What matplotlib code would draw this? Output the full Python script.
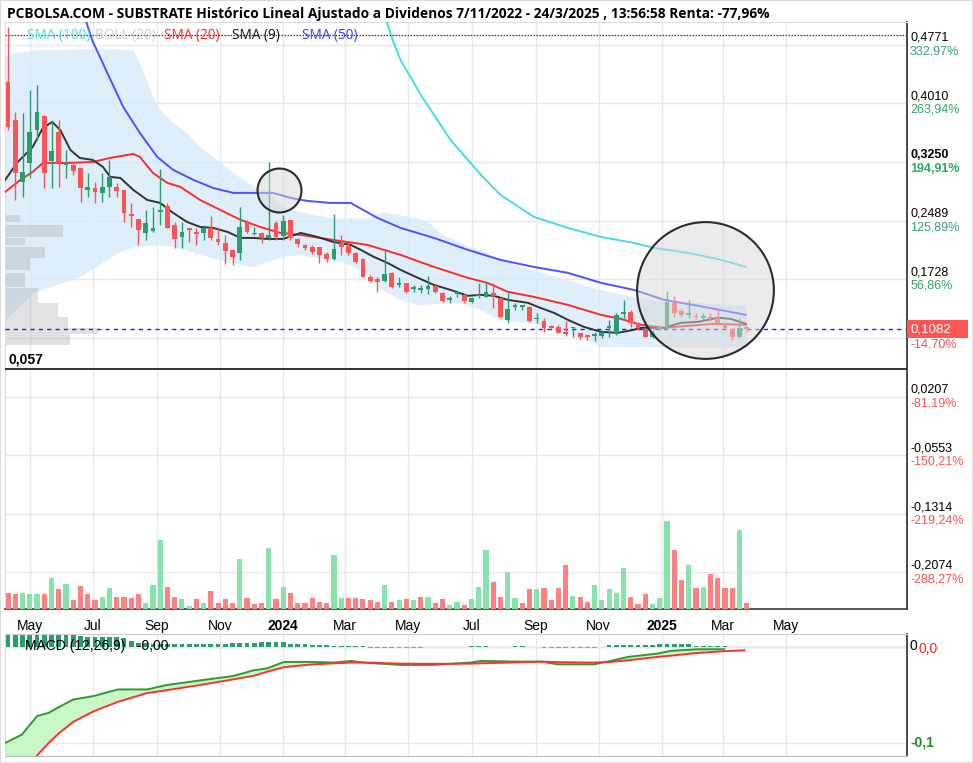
"""
SUBSTRATE weekly chart (pcbolsa style): candles + SMA/Bollinger, volume, MACD.
Writes out.png (973x763).
"""
import numpy as np
import pandas as pd
import matplotlib
matplotlib.use("Agg")
import matplotlib.pyplot as plt
import matplotlib.dates as mdates
from matplotlib.patches import Rectangle

# ── weekly candles, first week 10-Apr-2023 ───────────────────────────────────
START = "2023-04-10"
OPEN = [0.4290, 0.3794, 0.2994, 0.3232, 0.3664, 0.3846, 0.3266, 0.3642, 0.3210, 0.3210,
        0.3168, 0.2886, 0.2912, 0.2844, 0.2929, 0.2929, 0.2886, 0.2575, 0.2507, 0.2325,
        0.2355, 0.2605, 0.2679, 0.2433, 0.2281, 0.2390, 0.2336, 0.2325, 0.2390, 0.2251,
        0.2196, 0.2109, 0.2066, 0.2455, 0.2310, 0.2325, 0.2260, 0.2463, 0.2290, 0.2500,
        0.2251, 0.2174, 0.2152, 0.2152, 0.2057, 0.1992, 0.2200, 0.2161, 0.2074, 0.1992,
        0.1763, 0.1729, 0.1711, 0.1815, 0.1655, 0.1677, 0.1603, 0.1590, 0.1599, 0.1642,
        0.1548, 0.1461, 0.1535, 0.1526, 0.1439, 0.1506, 0.1504, 0.1556, 0.1483, 0.1202,
        0.1371, 0.1370, 0.1374, 0.1208, 0.1193, 0.1111, 0.1115, 0.1037, 0.1091, 0.1029,
        0.1007, 0.0994, 0.0994, 0.1100, 0.1029, 0.1283, 0.1309, 0.1167, 0.1081, 0.0977,
        0.1085, 0.1094, 0.1426, 0.1318, 0.1266, 0.1240, 0.1224, 0.1228, 0.1224, 0.1167,
        0.1081, 0.0977, 0.1094]
HIGH = [0.5000, 0.3901, 0.3884, 0.4183, 0.4247, 0.3858, 0.3794, 0.3794, 0.3405, 0.3249,
        0.3172, 0.3107, 0.2990, 0.3107, 0.3275, 0.2977, 0.2886, 0.2718, 0.2507, 0.2627,
        0.2666, 0.3159, 0.2718, 0.2476, 0.2476, 0.2390, 0.2394, 0.2433, 0.2549, 0.2411,
        0.2303, 0.2122, 0.2670, 0.2498, 0.2411, 0.2346, 0.3253, 0.2480, 0.2560, 0.2500,
        0.2265, 0.2190, 0.2170, 0.2152, 0.2087, 0.2575, 0.2303, 0.2196, 0.2087, 0.2005,
        0.1785, 0.1759, 0.2118, 0.1828, 0.1759, 0.1685, 0.1655, 0.1655, 0.1772, 0.1655,
        0.1568, 0.1513, 0.1568, 0.1539, 0.1504, 0.1677, 0.1698, 0.1685, 0.1483, 0.1548,
        0.1418, 0.1396, 0.1383, 0.1288, 0.1224, 0.1137, 0.1137, 0.1193, 0.1115, 0.1037,
        0.1020, 0.1050, 0.1072, 0.1202, 0.1288, 0.1461, 0.1331, 0.1180, 0.1094, 0.1081,
        0.1124, 0.1581, 0.1513, 0.1340, 0.1461, 0.1296, 0.1288, 0.1296, 0.1331, 0.1180,
        0.1094, 0.1224, 0.1115]
LOW = [0.3664, 0.2757, 0.2796, 0.3042, 0.3534, 0.2912, 0.2912, 0.2929, 0.3042, 0.3081,
       0.2735, 0.2800, 0.2718, 0.2731, 0.2800, 0.2796, 0.2476, 0.2407, 0.2174, 0.2238,
       0.2340, 0.2433, 0.2390, 0.2131, 0.2131, 0.2216, 0.2174, 0.2238, 0.2238, 0.2174,
       0.1927, 0.1914, 0.1979, 0.2325, 0.2303, 0.2196, 0.2238, 0.2238, 0.2238, 0.2238,
       0.2150, 0.2110, 0.2060, 0.1940, 0.1957, 0.1979, 0.2044, 0.2044, 0.1940, 0.1755,
       0.1698, 0.1561, 0.1698, 0.1612, 0.1633, 0.1548, 0.1568, 0.1548, 0.1539, 0.1548,
       0.1439, 0.1418, 0.1504, 0.1426, 0.1426, 0.1483, 0.1496, 0.1353, 0.1224, 0.1159,
       0.1331, 0.1331, 0.1180, 0.1159, 0.1050, 0.1072, 0.1029, 0.0994, 0.0985, 0.0951,
       0.0942, 0.0933, 0.0964, 0.0985, 0.1007, 0.1202, 0.1115, 0.1072, 0.0977, 0.0964,
       0.1072, 0.1094, 0.1244, 0.1237, 0.1224, 0.1211, 0.1202, 0.1193, 0.1137, 0.1081,
       0.0942, 0.0964, 0.1050]
CLOSE = [0.3699, 0.3103, 0.3124, 0.3642, 0.3901, 0.3103, 0.3396, 0.3232, 0.3223, 0.3137,
         0.2908, 0.2925, 0.2864, 0.2929, 0.3059, 0.2877, 0.2584, 0.2549, 0.2368, 0.2463,
         0.2394, 0.2627, 0.2390, 0.2247, 0.2346, 0.2368, 0.2316, 0.2390, 0.2260, 0.2209,
         0.2100, 0.2022, 0.2411, 0.2346, 0.2323, 0.2260, 0.2300, 0.2275, 0.2480, 0.2260,
         0.2187, 0.2131, 0.2087, 0.2044, 0.1992, 0.2118, 0.2148, 0.2074, 0.1957, 0.1763,
         0.1711, 0.1698, 0.1798, 0.1625, 0.1681, 0.1568, 0.1612, 0.1599, 0.1646, 0.1561,
         0.1448, 0.1491, 0.1543, 0.1448, 0.1491, 0.1513, 0.1568, 0.1513, 0.1237, 0.1344,
         0.1374, 0.1377, 0.1193, 0.1215, 0.1094, 0.1102, 0.1037, 0.1020, 0.1098, 0.0985,
         0.0985, 0.1020, 0.1050, 0.1111, 0.1266, 0.1292, 0.1159, 0.1094, 0.0985, 0.1037,
         0.1094, 0.1439, 0.1296, 0.1266, 0.1275, 0.1234, 0.1244, 0.1221, 0.1159, 0.1094,
         0.0985, 0.1094, 0.1082]

# weekly volume (thousand shares) and its up/down colouring as shown
VOLUME = [48, 44, 48, 44, 44, 44, 93, 60, 74, 26,
          68, 45, 26, 37, 63, 37, 37, 33, 44, 18,
          71, 206, 67, 37, 30, 8, 30, 18, 53, 18,
          30, 18, 150, 33, 15, 18, 183, 30, 67, 48,
          18, 18, 33, 22, 18, 161, 33, 33, 33, 30,
          26, 22, 71, 22, 26, 30, 26, 37, 37, 18,
          30, 11, 22, 11, 30, 67, 176, 82, 37, 112,
          33, 18, 60, 60, 63, 26, 63, 131, 40, 37,
          22, 71, 26, 60, 48, 123, 37, 14, 44, 14,
          33, 263, 176, 86, 131, 63, 67, 104, 93, 63,
          63, 236, 18]
VOL_DIR = ("rrgggrgrgr" "rrrggrrrrg" "ggrrggrgrr" "rrgrrrgrgr" "rrrrrggrrr"
           "rrgrgrgrgr" "rggrgggrrg" "grrgrrrrgr" "rgggggrrrg" "ggrrgrgrrr" "rgr")

# MACD histogram, thousandths
HIST_MILLI = [13, 13, 13, 13, 13, 13, 13, 13, 13, 13,
              11, 10, 10, 10, 10, 10, 9, 6, 4, 4,
              3, 3, 3, 3, 3, 3, 3, 3, 3, 3,
              3, 4, 4, 4, 4, 5, 5, 5, 5, 3,
              3, 3, 2, 2, 2, 1, 1, 1, 1, 1,
              -1, -1, -1, -1, -1, -1, -1, -1, 0, 0,
              0, 0, 0, 0, 1, 1, 1, 0, 0, 0,
              1, 1, 0, 0, -1, -1, -1, -1, -1, -1,
              -1, -1, 0, 2, 2, 2, 2, 2, 2, 2,
              3, 3, 3, 3, 3, 1.5, 1.5, 1.5, 1.5, 1.5,
              0, 0, 0]

# ── indicator lines, sampled at week positions (0 = first candle) ──────────────
SMA9_WK = [-0.4, 1.2, 3.4, 4.8, 6.1, 7.2, 8.6, 9.9, 11.7, 13.1, 14.1, 15.5, 17.3, 19.2,
           21.0, 22.8, 24.7, 26.5, 28.3, 30.3, 32.1, 33.9, 35.8, 38.0, 40.4, 42.7, 44.9,
           47.3, 48.7, 50.5, 52.4, 54.2, 56.6, 58.8, 61.1, 63.5, 65.3, 67.1, 69.0, 71.8,
           73.5, 75.4, 77.3, 79.5, 81.9, 84.2, 86.4, 87.4, 90.6, 92.9, 95.3, 98.0, 99.8, 101.9]
SMA9 = [0.3016, 0.3236, 0.3444, 0.3690, 0.3768, 0.3664, 0.3405, 0.3301, 0.3275, 0.3185,
        0.3055, 0.3042, 0.2886, 0.2757, 0.2718, 0.2588, 0.2472, 0.2407, 0.2394, 0.2342,
        0.2264, 0.2264, 0.2251, 0.2251, 0.2329, 0.2277, 0.2212, 0.2174, 0.2109, 0.2018,
        0.1940, 0.1850, 0.1746, 0.1655, 0.1590, 0.1513, 0.1526, 0.1513, 0.1461, 0.1422,
        0.1357, 0.1292, 0.1202, 0.1111, 0.1046, 0.1033, 0.1072, 0.1098, 0.1098, 0.1163,
        0.1176, 0.1228, 0.1215, 0.1150]
SMA20_WK = [-0.4, 1.7, 3.4, 4.8, 8.2, 11.7, 14.1, 17.3, 18.2, 20.0, 22.0, 23.8, 26.5,
            29.3, 32.1, 34.8, 37.6, 40.4, 44.9, 49.6, 54.2, 58.8, 63.5, 66.2, 69.0, 72.6,
            77.3, 81.9, 84.6, 87.4, 90.6, 93.9, 97.5, 101.9]
SMA20 = [0.2861, 0.3016, 0.3120, 0.3236, 0.3236, 0.3249, 0.3301, 0.3353, 0.3314, 0.3107,
         0.2977, 0.2925, 0.2757, 0.2627, 0.2498, 0.2407, 0.2329, 0.2303, 0.2238, 0.2174,
         0.2044, 0.1888, 0.1746, 0.1681, 0.1565, 0.1500, 0.1396, 0.1266, 0.1214, 0.1137,
         0.1098, 0.1124, 0.1150, 0.1137]
SMA50_WK = [10.8, 11.6, 13.7, 15.9, 18.2, 20.6, 22.8, 25.6, 28.3, 31.1, 33.9, 36.6, 39.0,
            41.3, 44.5, 47.3, 51.0, 54.2, 58.8, 63.5, 68.0, 72.6, 77.3, 81.9, 86.4, 90.6,
            96.1, 101.9]
SMA50 = [0.5064, 0.4831, 0.4403, 0.3962, 0.3625, 0.3314, 0.3146, 0.3016, 0.2912, 0.2848,
         0.2848, 0.2848, 0.2783, 0.2744, 0.2718, 0.2718, 0.2524, 0.2394, 0.2264, 0.2109,
         0.1979, 0.1888, 0.1811, 0.1681, 0.1590, 0.1461, 0.1370, 0.1266]
SMA100_WK = [52.3, 53.1, 54.2, 57.0, 61.1, 65.3, 68.0, 72.6, 77.3, 81.9, 86.4, 89.2, 93.9,
             98.5, 101.9]
SMA100 = [0.5064, 0.4831, 0.4571, 0.4118, 0.3534, 0.3081, 0.2822, 0.2537, 0.2394, 0.2277,
          0.2200, 0.2135, 0.2070, 0.1979, 0.1888]

BOLL_WK = [-0.4, 3.4, 9.9, 15.1, 17.3, 18.7, 20.6, 22.8, 24.7, 26.5, 28.9, 31.1, 33.5,
           35.8, 38.0, 40.4, 44.9, 47.3, 49.6, 51.8, 54.2, 56.6, 58.0, 59.7, 61.1, 62.5,
           63.5, 65.3, 68.0, 72.6, 77.3, 79.5, 81.9, 86.4, 89.2, 93.9, 101.9]
BOLL_UP = [0.4636, 0.4701, 0.4714, 0.4714, 0.4701, 0.4403, 0.3962, 0.3755, 0.3625, 0.3444,
           0.3275, 0.3107, 0.2960, 0.2860, 0.2666, 0.2601, 0.2524, 0.2524, 0.2524, 0.2601,
           0.2562, 0.2520, 0.2472, 0.2329, 0.2260, 0.2200, 0.2160, 0.2109, 0.1979, 0.1850,
           0.1720, 0.1655, 0.1590, 0.1500, 0.1461, 0.1430, 0.1396]
BOLL_LO = [0.1202, 0.1552, 0.1760, 0.2070, 0.2148, 0.2165, 0.2174, 0.2150, 0.2105, 0.2050,
           0.1990, 0.1940, 0.1888, 0.1953, 0.2030, 0.2044, 0.1979, 0.1914, 0.1785, 0.1590,
           0.1461, 0.1396, 0.1405, 0.1420, 0.1435, 0.1420, 0.1396, 0.1330, 0.1202, 0.1163,
           0.1033, 0.0968, 0.0851, 0.0851, 0.0851, 0.0851, 0.0851]

# volume-at-price blocks on the left edge
VP_LO = [0.2472, 0.2277, 0.2174, 0.2005, 0.1850, 0.1629, 0.1422, 0.1240, 0.1098, 0.1020, 0.0878]
VP_HI = [0.2562, 0.2433, 0.2264, 0.2148, 0.2005, 0.1811, 0.1616, 0.1422, 0.1240, 0.1098, 0.1020]
VP_VOL = [15, 58, 20, 40, 25, 20, 33, 53, 63, 93, 65]

# MACD (12,26,9)
MACD_WK = [-0.4, 1.9, 4.0, 5.6, 7.0, 9.0, 11.8, 15.2, 19.2, 21.9, 26.5, 31.1, 33.9, 35.8,
           38.1, 41.8, 45.0, 47.3, 49.6, 54.2, 58.8, 63.9, 65.3, 70.8, 73.6, 75.9, 80.9,
           83.2, 85.6, 89.7, 91.5, 95.2, 98.9]
MACD = [-0.1000, -0.0913, -0.0720, -0.0686, -0.0626, -0.0547, -0.0511, -0.0442, -0.0442,
        -0.0396, -0.0348, -0.0302, -0.0243, -0.0222, -0.0155, -0.0155, -0.0162, -0.0145,
        -0.0165, -0.0186, -0.0186, -0.0162, -0.0145, -0.0152, -0.0152, -0.0180, -0.0180,
        -0.0145, -0.0103, -0.0068, -0.0040, -0.0023, -0.0023]
SIGNAL_WK = MACD_WK + [101.7]
SIGNAL = [-0.160, -0.140, -0.113, -0.100, -0.090, -0.078, -0.067, -0.057, -0.048, -0.045,
          -0.0396, -0.0337, -0.0300, -0.0257, -0.0210, -0.0182, -0.0170, -0.0162, -0.0162,
          -0.0173, -0.0175, -0.0173, -0.0170, -0.0158, -0.0152, -0.0157, -0.0162, -0.0155,
          -0.0138, -0.0103, -0.0090, -0.0062, -0.0043, -0.0034]

LAST_PRICE = 0.1082
PERIOD_MAX = 0.4895
FLOOR_PRICE = 0.057

# right axis
GRID_TICKS = [0.4771, 0.4010, 0.3250, 0.2489, 0.1728, 0.0968, 0.0207, -0.0553, -0.1314, -0.2074]
TICK_VALS = [0.4771, 0.4010, 0.3250, 0.2489, 0.1728, 0.0207, -0.0553, -0.1314, -0.2074]
TICK_TXT = ["0,4771", "0,4010", "0,3250", "0,2489", "0,1728", "0,0207", "-0,0553", "-0,1314", "-0,2074"]
TICK_PCT = ["332,97%", "263,94%", "194,91%", "125,89%", "56,86%", "-81,19%", "-150,21%",
            "-219,24%", "-288,27%"]

MONTHS = ["2023-05-01", "2023-07-01", "2023-09-01", "2023-11-01", "2024-01-01", "2024-03-01",
          "2024-05-01", "2024-07-01", "2024-09-01", "2024-11-01", "2025-01-01", "2025-03-01",
          "2025-05-01"]
MONTH_LBL = ["May", "Jul", "Sep", "Nov", "2024", "Mar", "May", "Jul", "Sep", "Nov", "2025",
             "Mar", "May"]

TITLE = ("PCBOLSA.COM - SUBSTRATE Histórico Lineal Ajustado a Dividenos 7/11/2022 - "
         "24/3/2025 , 13:56:58 Renta: -77,96%")

# ── colours ───────────────────────────────────────────────────────────────────
GREEN = "#2a9d6e"
RED = "#ff5252"
VGREEN = "#86e3ab"
VRED = "#ff8080"
C_SMA9 = "#333333"
C_SMA20 = "#ff2b2b"
C_SMA50 = "#5050ff"
C_SMA100 = "#45dbea"
C_BOLL = "#d6ebfb"
GRID = "#e8e8e8"
PCT_UP = "#2ea46e"
PCT_DN = "#ff5050"

SANS = ["Liberation Sans", "DejaVu Sans"]
NARROW = ["Liberation Sans Narrow", "Liberation Sans", "DejaVu Sans"]
OPEN_SANS = ["Open Sans", "DejaVu Sans"]

W, H = 973, 763


def fx(px):
    return px / W


def fy(py):
    return 1 - py / H


fig = plt.figure(figsize=(W / 100, H / 100), dpi=100)
fig.patch.set_facecolor("white")
fig.add_artist(Rectangle((0, 0), 1, 1, transform=fig.transFigure, fill=False,
                         ec="#dcdcdc", lw=1.5))

ax = fig.add_axes([fx(5), fy(609), (907 - 5) / W, (609 - 22) / H])
axv = fig.add_axes([fx(5), fy(609), (907 - 5) / W, (609 - 22) / H], sharex=ax)
axm = fig.add_axes([fx(5), fy(756), (907 - 5) / W, (756 - 634) / H], sharex=ax)

weeks = mdates.date2num(pd.date_range(START, periods=len(CLOSE), freq="7D"))
x0 = weeks[0]


def wk(v):
    return x0 + 7 * np.asarray(v, dtype=float)


o, h, l, c = (np.array(a) for a in (OPEN, HIGH, LOW, CLOSE))

# ── price panel ───────────────────────────────────────────────────────────────
ax.fill_between(wk(BOLL_WK), BOLL_LO, BOLL_UP, color=C_BOLL, alpha=0.8, lw=0, zorder=1)

for lo, hi, v in zip(VP_LO, VP_HI, VP_VOL):
    ax.add_patch(Rectangle((0, lo), v / 902, hi - lo, transform=ax.get_yaxis_transform(),
                           fc="#9a9a9a", alpha=0.28, lw=0, zorder=2))

ax.plot(wk(SMA100_WK), SMA100, color=C_SMA100, lw=1.4, zorder=3)
ax.plot(wk(SMA50_WK), SMA50, color=C_SMA50, lw=1.4, zorder=3)
ax.plot(wk(SMA20_WK), SMA20, color=C_SMA20, lw=1.4, zorder=3)
ax.plot(wk(SMA9_WK), SMA9, color=C_SMA9, lw=1.4, zorder=3)

up = c >= o
ccol = np.where(up, GREEN, RED)
ax.vlines(weeks, l, h, colors=ccol, lw=1.0, zorder=4)
body_lo = np.minimum(o, c)
body_h = np.maximum(np.abs(c - o), 0.0022)
ax.bar(weeks, body_h, bottom=body_lo, width=4.6, color=ccol, lw=0, zorder=5)

ax.axhline(PERIOD_MAX, color="#333333", lw=0.9, ls=(0, (1.2, 1.2)), zorder=3)
ax.axhline(LAST_PRICE, color="#1f1fff", lw=1.0, ls=(0, (3, 3)), zorder=3)
ax.axhline(FLOOR_PRICE, color="#222222", lw=1.3, zorder=3)
ax.text(0.004, FLOOR_PRICE + 0.003, "0,057", transform=ax.get_yaxis_transform(),
        fontsize=10, fontweight="bold", family=SANS, va="bottom", ha="left", zorder=6)

# highlight circles (pixel-round markers)
ax.scatter([wk(37.4)], [0.2887], s=1000, facecolor=(0.85, 0.85, 0.85, 0.5),
           edgecolor="#2b2b2b", lw=1.5, zorder=6)
ax.scatter([wk(96.2)], [0.1590], s=9700, facecolor=(0.85, 0.85, 0.85, 0.5),
           edgecolor="#2b2b2b", lw=1.5, zorder=6)

ax.set_ylim(-0.2548, 0.5064)
ax.set_xlim(x0 - 3, mdates.date2num(pd.Timestamp("2025-08-26")))
ax.set_yticks(GRID_TICKS)
ax.yaxis.set_ticklabels([])
ax.tick_params(axis="y", length=0)
ax.set_xticks(mdates.date2num(pd.to_datetime(MONTHS)))
ax.set_xticklabels(MONTH_LBL)
ax.tick_params(axis="x", length=0, pad=7, labelsize=10)
for t, s in zip(ax.get_xticklabels(), MONTH_LBL):
    t.set_family(NARROW)
    if s.isdigit():
        t.set_fontweight("bold")
ax.grid(True, color=GRID, lw=1.0, zorder=0)
ax.set_axisbelow(True)
for side, col in (("left", "#dddddd"), ("top", "#dddddd"), ("right", "#3a3a3a"),
                  ("bottom", "#3a3a3a")):
    ax.spines[side].set_color(col)
ax.spines["right"].set_linewidth(1.3)
ax.spines["bottom"].set_linewidth(1.2)

# right-hand price / percent labels
ytr = ax.get_yaxis_transform()
for v, txt, pct in zip(TICK_VALS, TICK_TXT, TICK_PCT):
    bold = "bold" if txt == "0,3250" else "normal"
    ax.annotate(txt, xy=(1, v), xycoords=ytr, xytext=(2.2, 0.5), textcoords="offset points",
                va="bottom", ha="left", fontsize=9, family=SANS, fontweight=bold,
                annotation_clip=False)
    ax.annotate(pct, xy=(1, v), xycoords=ytr, xytext=(2.2, -0.5), textcoords="offset points",
                va="top", ha="left", fontsize=9, family=SANS, fontweight=bold,
                color=PCT_UP if not pct.startswith("-") else PCT_DN, annotation_clip=False)

ax.add_patch(Rectangle((1.0, LAST_PRICE - 0.0117), 61 / 902, 0.0234, transform=ytr,
                       fc="#ff5555", ec="none", clip_on=False, zorder=7))
ax.annotate("0,1082", xy=(1, LAST_PRICE), xycoords=ytr, xytext=(2.2, 0),
            textcoords="offset points", va="center", ha="left", fontsize=9.5, family=SANS,
            color="white", annotation_clip=False, zorder=8)
ax.annotate("-14,70%", xy=(1, LAST_PRICE - 0.0117), xycoords=ytr, xytext=(2.2, -0.5),
            textcoords="offset points", va="top", ha="left", fontsize=9, family=SANS,
            color=PCT_DN, annotation_clip=False)

# ── volume (own scale, bottom of the price panel) ─────────────────────────────
vcol = [VGREEN if d == "g" else VRED for d in VOL_DIR]
axv.bar(weeks, VOLUME, width=5.0, color=vcol, lw=0, zorder=2)
axv.set_ylim(0, 1760)
axv.patch.set_visible(False)
axv.axis("off")

# ── MACD panel ────────────────────────────────────────────────────────────────
mx = wk(MACD_WK)
m = np.array(MACD)
sg = np.array(SIGNAL[:len(MACD)])
axm.fill_between(mx, m, sg, where=m >= sg, interpolate=True, color="#c8f7c8", lw=0, zorder=1)
axm.fill_between(mx, m, sg, where=m < sg, interpolate=True, color="#ffd0d0", lw=0, zorder=1)
hist = np.array(HIST_MILLI) / 1000.0
axm.bar(weeks, hist, width=4.6, color=np.where(hist >= 0, GREEN, "#ff7070"), lw=0, zorder=2)
axm.plot(mx, m, color="#2f9a2f", lw=1.4, zorder=3)
axm.plot(wk(SIGNAL_WK), SIGNAL, color="#ff3030", lw=1.4, zorder=3)
axm.set_ylim(-0.1136, 0.0136)
axm.set_yticks([0.0, -0.1])
axm.yaxis.set_ticklabels([])
axm.tick_params(axis="both", length=0, labelbottom=False)
axm.grid(True, color=GRID, lw=1.0, zorder=0)
axm.axhline(0, color="#c8c8c8", lw=1.0, zorder=0)
axm.set_axisbelow(True)
for side, col in (("left", "#dddddd"), ("top", "#cccccc"), ("right", "#3a3a3a"),
                  ("bottom", "#bbbbbb")):
    axm.spines[side].set_color(col)
axm.spines["right"].set_linewidth(1.3)
mtr = axm.get_yaxis_transform()
axm.annotate("0", xy=(1, 0), xycoords=mtr, xytext=(2.0, 1), textcoords="offset points",
             va="center", ha="left", fontsize=10, family=NARROW, annotation_clip=False)
axm.annotate("0,0", xy=(1, 0), xycoords=mtr, xytext=(8.5, -1.5), textcoords="offset points",
             va="center", ha="left", fontsize=10, family=NARROW, color="#ff2020",
             annotation_clip=False)
axm.annotate("-0,1", xy=(1, -0.1), xycoords=mtr, xytext=(2.5, 0), textcoords="offset points",
             va="center", ha="left", fontsize=10, family=NARROW, color="#1e8c1e",
             fontweight="bold", annotation_clip=False)
axm.text(0.022, 0.905, "MACD (12,26,9)   -0,00", transform=axm.transAxes, fontsize=10,
         family=NARROW, va="center", ha="left", zorder=5)

# ── header and legend ─────────────────────────────────────────────────────────
fig.text(fx(7), fy(14), TITLE, fontsize=9.9, fontweight="bold", family=OPEN_SANS,
         va="center", ha="left")
legend = [("SMA (100)", C_SMA100, 27), ("BOLL (20)", "#cfcfcf", 95), ("SMA (20)", "#ff1f1f", 164),
          ("SMA (9)", "#111111", 232), ("SMA (50)", "#3a3aff", 302)]
for txt, col, px in legend:
    fig.text(fx(px), fy(36), txt, fontsize=9.8, family=OPEN_SANS, color=col,
             va="center", ha="left")

fig.savefig("out.png", dpi=100)
